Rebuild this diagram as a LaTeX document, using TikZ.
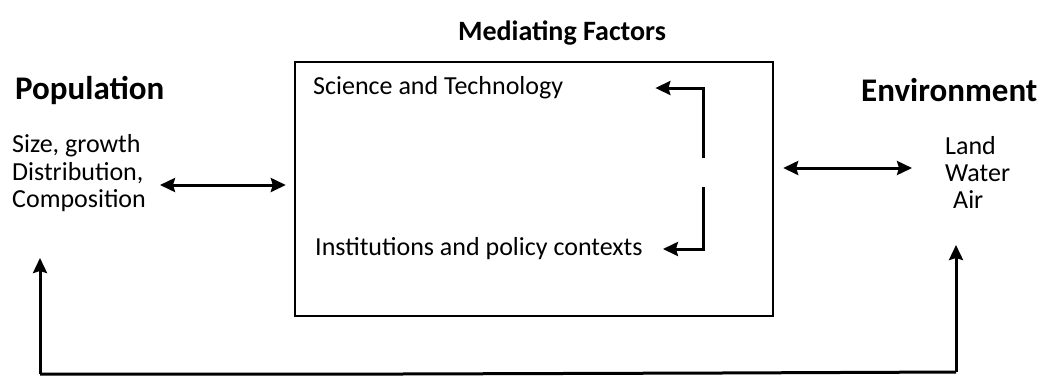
\documentclass[tikz,border=0pt]{standalone}
\usepackage{fontspec}
\setmainfont{Carlito}
\usetikzlibrary{arrows.meta,calc}
\begin{document}
\begin{tikzpicture}[x=1pt,y=-1pt,
  head/.style={font=\fontsize{33}{36}\selectfont\bfseries,inner sep=0pt,anchor=west},
  sub/.style={font=\fontsize{26}{27}\selectfont,inner sep=0pt,anchor=west},
  conn/.style={line width=3pt,-{Stealth[length=15pt,width=14pt,inset=2pt]}},
  dbl/.style={line width=3pt,{Stealth[length=15pt,width=14pt,inset=2pt]}-{Stealth[length=15pt,width=14pt,inset=2pt]}},
  frame/.style={draw,line width=2.4pt,minimum width=478pt,minimum height=254pt,inner sep=0pt}]
\useasboundingbox (0,0) rectangle (1044,376);
% box
\node[frame] (box) at (534,189) {};
\node[font=\fontsize{28}{30}\selectfont\bfseries,inner sep=0pt] (med) at (562,33) {Mediating Factors};
\node[sub] (sci) at (313,88) {Science and Technology};
\node[sub] (inst) at (315,249) {Institutions and policy contexts};
% population
\node[head] (pop) at (15,90) {Population};
\node[sub] (p1) at (12,146) {Size, growth};
\node[sub] (p2) at (12,173) {Distribution,};
\node[sub] (p3) at (12,201) {Composition};
% environment
\node[head] (env) at (861,90) {Environment};
\node[sub] (e1) at (945,146) {Land};
\node[sub] (e2) at (945,173) {Water};
\node[sub] (e3) at (953,200) {Air};
% connectors
\coordinate (la) at (160,185);
\coordinate (ra) at (912,168);
\draw[dbl] (la) -- ([xshift=-8pt]box.west |- la);
\draw[dbl] ([xshift=9pt]box.east |- ra) -- (ra);
\coordinate (vt) at (703,158);
\coordinate (vb) at (703,187);
\draw[conn] (vt) |- ([xshift=92pt]sci.east);
\draw[conn] (vb) |- ([xshift=20pt]inst.east);
\coordinate (bl) at (40,374);
\coordinate (br) at (956,372);
\coordinate (blt) at (40,258);
\coordinate (brt) at (956,245);
\draw[line width=3pt] (bl) -- (400,374) -- (720,373) -- (br);
\draw[conn] (bl) -- (blt);
\draw[conn] (br) -- (brt);
\end{tikzpicture}
\end{document}
